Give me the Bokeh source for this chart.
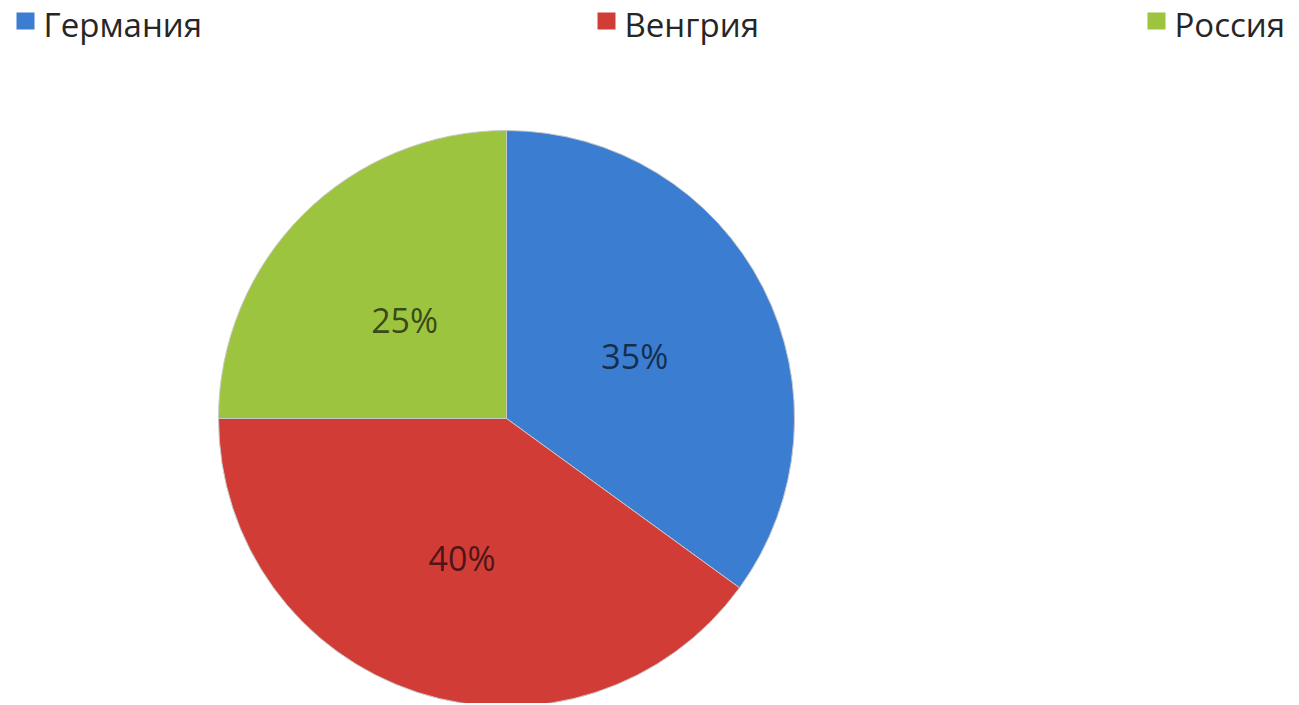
import numpy as np
from bokeh.plotting import figure
from bokeh.models import Range1d, ColumnDataSource
from bokeh.core.properties import value
from bokeh.embed import file_html
from bokeh.resources import INLINE

# ---- data ----
categories = ["Германия", "Венгрия", "Россия"]
shares = [35, 40, 25]
labels = ["35%", "40%", "25%"]
colors = ["#3B7DD1", "#D13C37", "#9CC43F"]

# ---- layout (page pixel coordinates; data y = 705 - page y) ----
W, H = 1295, 703
cx, cy_page, R = 506, 418, 288
legend_x = [16, 597, 1147]

p = figure(width=W, height=H, output_backend="svg", toolbar_location=None,
           x_range=Range1d(0, W), y_range=Range1d(705 - H, 705),
           min_border=0, min_border_left=0, min_border_right=0,
           min_border_top=0, min_border_bottom=0)
p.axis.visible = False
p.grid.visible = False
p.outline_line_color = None
p.background_fill_color = "white"
p.border_fill_color = "white"

cy = 705 - cy_page
fr = np.array(shares, dtype=float) / sum(shares)
cum = np.concatenate([[0], np.cumsum(fr)])
start = np.pi / 2 - cum[1:] * 2 * np.pi
end = np.pi / 2 - cum[:-1] * 2 * np.pi
mid = (start + end) / 2

src = ColumnDataSource(dict(start=start, end=end, color=colors,
                            lx=cx + 0.5 * R * np.cos(mid),
                            ly=cy + 0.5 * R * np.sin(mid) - 3,
                            label=labels))
p.wedge(x=cx, y=cy, radius=R, start_angle="start", end_angle="end",
        direction="anticlock", fill_color="color", line_color="#c8c8c8",
        line_width=1, source=src)
p.text(x="lx", y="ly", text="label", source=src, text_align="center",
       text_baseline="middle", text_font=value("Open Sans"),
       text_font_size="34px", text_color="#000000", text_alpha=0.65)

# ---- legend ----
leg = ColumnDataSource(dict(sx=[x + 9 for x in legend_x],
                            tx=[x + 27 for x in legend_x],
                            name=categories, color=colors))
p.rect(x="sx", y=705 - 20.5, width=18, height=17, fill_color="color",
       line_color=None, source=leg)
p.text(x="tx", y=705 - 24, text="name", source=leg, text_align="left",
       text_baseline="middle", text_font=value("Open Sans"),
       text_font_size="33px", text_color="#262626")

open("out.html", "w").write(file_html(p, INLINE))
